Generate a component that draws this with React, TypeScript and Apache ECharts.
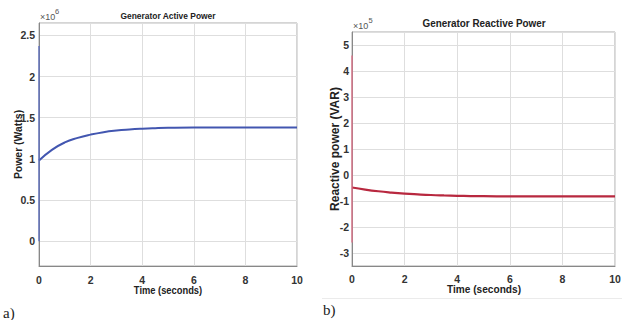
import React, { useEffect, useRef } from "react";
import * as echarts from "echarts";

// Active power (x10^6 W)
const activeSpikeTime = [0, 0];
const activeSpikeValue = [0, 2.37];
const activeTime = [0, 0.5, 1, 1.5, 2, 2.5, 3, 3.5, 4, 4.5, 5, 6, 7, 8, 9, 10];
const activeValue = [0.98, 1.11, 1.2, 1.255, 1.295, 1.325, 1.345, 1.358, 1.367, 1.373, 1.377, 1.38, 1.38, 1.38, 1.38, 1.38];

// Reactive power (x10^5 VAR)
const reactiveSpikeTime = [0, 0];
const reactiveSpikeValue = [-2.6, 4.6];
const reactiveTime = [0, 0.5, 1, 1.5, 2, 2.5, 3, 3.5, 4, 4.5, 5, 6, 7, 8, 9, 10];
const reactiveValue = [-0.48, -0.56, -0.625, -0.675, -0.715, -0.745, -0.77, -0.787, -0.8, -0.81, -0.816, -0.822, -0.824, -0.825, -0.825, -0.825];

const xTicks = [0, 2, 4, 6, 8, 10];

const pairs = (xs: number[], ys: number[]) => xs.map((x, i) => [x, ys[i]]);

const FONT = "'Liberation Sans', Arial, Helvetica, sans-serif";

const txt = (
  text: string,
  x: number,
  y: number,
  size: number,
  opts: { bold?: boolean; align?: string; scaleX?: number; rotation?: number; fill?: string; family?: string } = {}
) => ({
  type: "text",
  x,
  y,
  rotation: opts.rotation || 0,
  scaleX: opts.scaleX || 1,
  style: {
    text,
    fontFamily: opts.family || FONT,
    fontWeight: opts.bold === false ? "normal" : "bold",
    fontSize: size,
    fill: opts.fill || "#222",
    align: opts.align || "center",
    verticalAlign: "middle",
    textAlign: opts.align || "center",
    textVerticalAlign: "middle",
  },
});

export default function App() {
  const ref = useRef<HTMLDivElement>(null);
  useEffect(() => {
    if (!ref.current) return;
    const chart = echarts.init(ref.current, undefined, { renderer: "svg" });
    const axisLabel = (size: number, margin: number) => ({
      fontFamily: FONT,
      fontWeight: "bold" as const,
      fontSize: size,
      color: "#333",
      margin,
      showMinLabel: false,
      showMaxLabel: false,
    });
    const axisLine = { show: true, onZero: false, lineStyle: { color: "#888", width: 1 } };
    const splitLine = { show: true, lineStyle: { color: "#dedede", width: 1 } };
    const xAxisBase = (gridIndex: number, size: number, margin: number) => ({
      type: "value" as const,
      gridIndex,
      min: xTicks[0],
      max: xTicks[xTicks.length - 1],
      interval: 2,
      axisLine,
      axisTick: { show: false },
      splitLine,
      axisLabel: { ...axisLabel(size, margin), showMinLabel: true, showMaxLabel: true },
    });
    chart.setOption({
      animation: false,
      backgroundColor: "#fff",
      grid: [
        { left: 39, top: 23, width: 258, height: 243, show: true, borderColor: "#aaa", borderWidth: 1, backgroundColor: "transparent" },
        { left: 352, top: 32, width: 263, height: 234, show: true, borderColor: "#aaa", borderWidth: 1, backgroundColor: "transparent" },
      ],
      xAxis: [xAxisBase(0, 10.5, 8), xAxisBase(1, 10.5, 7)],
      yAxis: [
        {
          type: "value",
          gridIndex: 0,
          min: -0.3,
          max: 2.65,
          splitNumber: 6,
          axisLine,
          axisTick: { show: false },
          splitLine,
          axisLabel: axisLabel(10.5, 4),
        },
        {
          type: "value",
          gridIndex: 1,
          min: -3.5,
          max: 5.5,
          splitNumber: 9,
          axisLine,
          axisTick: { show: false },
          splitLine,
          axisLabel: axisLabel(10.5, 3),
        },
      ],
      series: [
        {
          type: "line",
          xAxisIndex: 0,
          yAxisIndex: 0,
          data: pairs(activeSpikeTime, activeSpikeValue),
          showSymbol: false,
          z: 5,
          lineStyle: { color: "#5a6cc0", width: 1.3 },
        },
        {
          type: "line",
          xAxisIndex: 0,
          yAxisIndex: 0,
          data: pairs(activeTime, activeValue),
          smooth: true,
          showSymbol: false,
          lineStyle: { color: "#4256b0", width: 2 },
        },
        {
          type: "line",
          xAxisIndex: 1,
          yAxisIndex: 1,
          data: pairs(reactiveSpikeTime, reactiveSpikeValue),
          showSymbol: false,
          z: 5,
          lineStyle: { color: "#e07088", width: 1.3 },
        },
        {
          type: "line",
          xAxisIndex: 1,
          yAxisIndex: 1,
          data: pairs(reactiveTime, reactiveValue),
          smooth: true,
          showSymbol: false,
          lineStyle: { color: "#b8283f", width: 2.2 },
        },
      ],
      graphic: [
        txt("Generator Active Power", 168, 15.5, 9.8, { scaleX: 0.86 }),
        txt("Generator Reactive Power", 484, 23, 11, { scaleX: 0.9 }),
        txt("Time (seconds)", 168, 290, 11, { scaleX: 0.85 }),
        txt("Time (seconds)", 484, 289, 11.5, { scaleX: 0.88 }),
        txt("Power (Watts)", 17.5, 144.5, 11, { rotation: Math.PI / 2, scaleX: 0.95 }),
        txt("Reactive power (VAR)", 334.5, 149, 12, { rotation: Math.PI / 2 }),
        txt("×10", 40, 17, 9, { bold: false, align: "left", fill: "#555" }),
        txt("6", 55, 11.5, 7.5, { bold: false, align: "left", fill: "#555" }),
        txt("×10", 353, 25.5, 9, { bold: false, align: "left", fill: "#555" }),
        txt("5", 368.5, 20, 7.5, { bold: false, align: "left", fill: "#555" }),
        txt("a)", 3, 313, 15, { bold: false, align: "left", family: "'Liberation Serif', 'Times New Roman', serif" }),
        txt("b)", 323, 310, 15, { bold: false, align: "left", family: "'Liberation Serif', 'Times New Roman', serif" }),
        {
          type: "line",
          shape: { x1: 322, y1: 298.5, x2: 622, y2: 298.5 },
          style: { stroke: "#ebebeb", lineWidth: 1 },
        },
      ],
    });
    return () => chart.dispose();
  }, []);
  return <div ref={ref} style={{ position: "fixed", left: 0, top: 0, width: 628, height: 320 }} />;
}
